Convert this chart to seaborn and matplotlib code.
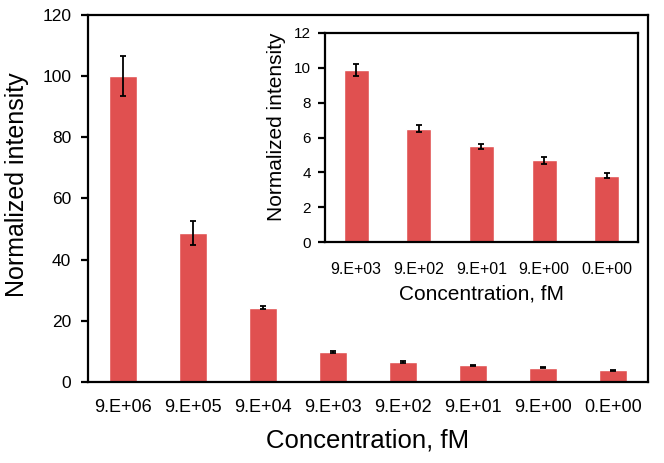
import numpy as np
import pandas as pd
import matplotlib
matplotlib.use("Agg")
import matplotlib.pyplot as plt
from matplotlib.ticker import FixedLocator
import seaborn as sns

# ========= Data =========
conc_labels = ["9.E+06", "9.E+05", "9.E+04", "9.E+03", "9.E+02", "9.E+01", "9.E+00", "0.E+00"]
intensity = [100.0, 48.7, 24.3, 9.85, 6.5, 5.5, 4.7, 3.8]
intensity_err = [6.5, 4.0, 0.4, 0.35, 0.2, 0.15, 0.2, 0.15]

inset_labels = conc_labels[3:]
inset_intensity = intensity[3:]
inset_err = intensity_err[3:]

bar_color = "#E05050"

sns.set_style("white")
plt.rcParams["font.family"] = ["Liberation Sans", "DejaVu Sans"]
plt.rcParams["text.color"] = "black"
plt.rcParams["axes.labelcolor"] = "black"
plt.rcParams["xtick.color"] = "black"
plt.rcParams["ytick.color"] = "black"

df = pd.DataFrame({"conc": conc_labels, "val": intensity})
df_in = pd.DataFrame({"conc": inset_labels, "val": inset_intensity})


def style_axes(ax, n):
    for s in ax.spines.values():
        s.set_color("black")
        s.set_linewidth(1.6)
    ax.set_xlim(-0.5, n - 0.5)
    ax.xaxis.set_minor_locator(FixedLocator(np.arange(n + 1) - 0.5))
    ax.tick_params(axis="x", which="major", length=0)
    ax.tick_params(axis="x", which="minor", length=5, width=1.6, direction="out", color="black")
    ax.tick_params(axis="y", length=5, width=1.6, direction="out", color="black", left=True)


fig = plt.figure(figsize=(6.64, 4.63), dpi=100)

# ========= Main plot =========
ax = fig.add_axes([0.1325, 0.175, 0.8435, 0.793])
sns.barplot(data=df, x="conc", y="val", color=bar_color, width=0.4, saturation=1, ax=ax, errorbar=None)
ax.errorbar(np.arange(len(intensity)), intensity, yerr=intensity_err, fmt="none",
            ecolor="black", elinewidth=1.3, capsize=2, capthick=1.3)
ax.set_ylim(0, 120)
ax.set_yticks(np.arange(0, 121, 20))
style_axes(ax, len(intensity))
ax.tick_params(axis="x", labelsize=13, pad=12)
ax.tick_params(axis="y", labelsize=12.5, pad=7)
ax.set_xlabel("Concentration, fM", fontsize=18.5, labelpad=9)
ax.set_ylabel("Normalized intensity", fontsize=18)
ax.yaxis.set_label_coords(-0.105, 0.538)

# ========= Inset =========
axin = fig.add_axes([0.489, 0.477, 0.472, 0.452])
axin.set_facecolor("white")
sns.barplot(data=df_in, x="conc", y="val", color=bar_color, width=0.4, saturation=1, ax=axin, errorbar=None)
axin.errorbar(np.arange(len(inset_intensity)), inset_intensity, yerr=inset_err, fmt="none",
              ecolor="black", elinewidth=1.3, capsize=2, capthick=1.3)
axin.set_ylim(0, 12)
axin.set_yticks(np.arange(0, 13, 2))
style_axes(axin, len(inset_intensity))
axin.tick_params(axis="x", labelsize=11.5, pad=14)
axin.tick_params(axis="y", labelsize=11, pad=5)
axin.set_xlabel("Concentration, fM", fontsize=15, labelpad=6)
axin.set_ylabel("Normalized intensity", fontsize=15)
axin.yaxis.set_label_coords(-0.122, 0.55)

fig.savefig("out.png", dpi=100, facecolor="white")
